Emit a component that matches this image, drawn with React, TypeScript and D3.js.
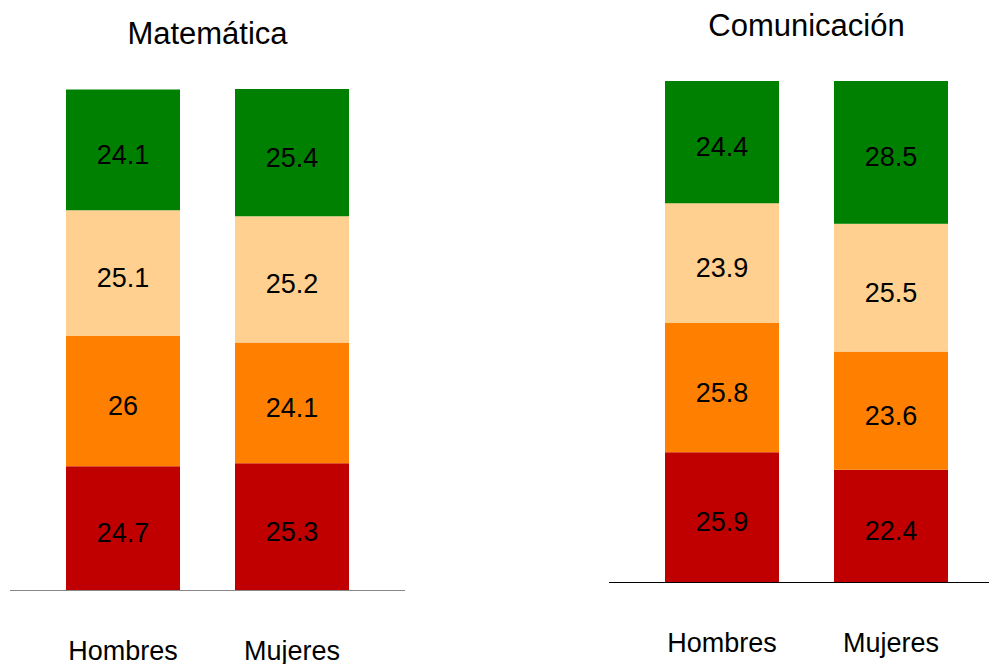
import React from "react";
import * as d3 from "d3";

// Achievement levels, stacked bottom to top
const levels = ["Inicio", "Proceso", "Satisfactorio", "Destacado"];
const levelColors = ["#C00000", "#FF8000", "#FFD08F", "#008000"];
const groups = ["Hombres", "Mujeres"];

// Percentages per level (same order as `levels`) for Hombres and Mujeres
const matematicaHombres = [24.7, 26, 25.1, 24.1];
const matematicaMujeres = [25.3, 24.1, 25.2, 25.4];
const comunicacionHombres = [25.9, 25.8, 23.9, 24.4];
const comunicacionMujeres = [22.4, 23.6, 25.5, 28.5];

const FONT = "'Liberation Sans', Arial, Helvetica, sans-serif";

type PanelProps = {
  title: string;
  series: number[][];
  x0: number;
  x1: number;
  top: number;
  bottom: number;
  lineX0: number;
  lineX1: number;
  lineColor: string;
};

function Panel({ title, series, x0, x1, top, bottom, lineX0, lineX1, lineColor }: PanelProps) {
  const x = d3.scaleBand<string>().domain(groups).range([x0, x1]).paddingInner(55 / 169).paddingOuter(0);
  const y = d3.scaleLinear().domain([0, 100]).range([bottom, top]);

  const rows = groups.map((g, gi) => {
    const row: Record<string, number | string> = { group: g };
    levels.forEach((l, li) => (row[l] = series[gi][li]));
    return row;
  });
  const stacked = d3.stack<Record<string, number | string>>().keys(levels)(rows as any);

  const cx = (x0 + x1) / 2;

  return (
    <g>
      <text x={cx} y={top - 45} textAnchor="middle" fontSize={31} fontFamily={FONT} fill="#000">
        {title}
      </text>
      {stacked.map((layer, li) => (
        <g key={levels[li]}>
          {layer.map((seg, gi) => {
            const g = groups[gi];
            const yTop = y(seg[1]);
            const yBot = y(seg[0]);
            const val = series[gi][li];
            return (
              <g key={g}>
                <rect
                  x={x(g)}
                  y={yTop}
                  width={x.bandwidth()}
                  height={yBot - yTop}
                  fill={levelColors[li]}
                />
                <text
                  x={(x(g) as number) + x.bandwidth() / 2}
                  y={(yTop + yBot) / 2 + 14}
                  textAnchor="middle"
                  fontSize={27}
                  fontFamily={FONT}
                  fill="#000"
                >
                  {String(val)}
                </text>
              </g>
            );
          })}
        </g>
      ))}
      <line x1={lineX0} x2={lineX1} y1={bottom + 0.5} y2={bottom + 0.5} stroke={lineColor} strokeWidth={1.2} />
      {groups.map((g) => (
        <text
          key={g}
          x={(x(g) as number) + x.bandwidth() / 2}
          y={bottom + 70}
          textAnchor="middle"
          fontSize={27}
          fontFamily={FONT}
          fill="#000"
        >
          {g}
        </text>
      ))}
    </g>
  );
}

export default function App() {
  return (
    <svg
      width={989}
      height={664}
      style={{ position: "absolute", left: 0, top: 0, background: "#fff" }}
    >
      <rect width={989} height={664} fill="#fff" />
      <Panel
        title="Matemática"
        series={[matematicaHombres, matematicaMujeres]}
        x0={66}
        x1={349}
        top={89}
        bottom={590}
        lineX0={10}
        lineX1={405}
        lineColor="#888"
      />
      <Panel
        title="Comunicación"
        series={[comunicacionHombres, comunicacionMujeres]}
        x0={665}
        x1={948}
        top={81}
        bottom={582}
        lineX0={609}
        lineX1={989}
        lineColor="#000"
      />
    </svg>
  );
}
